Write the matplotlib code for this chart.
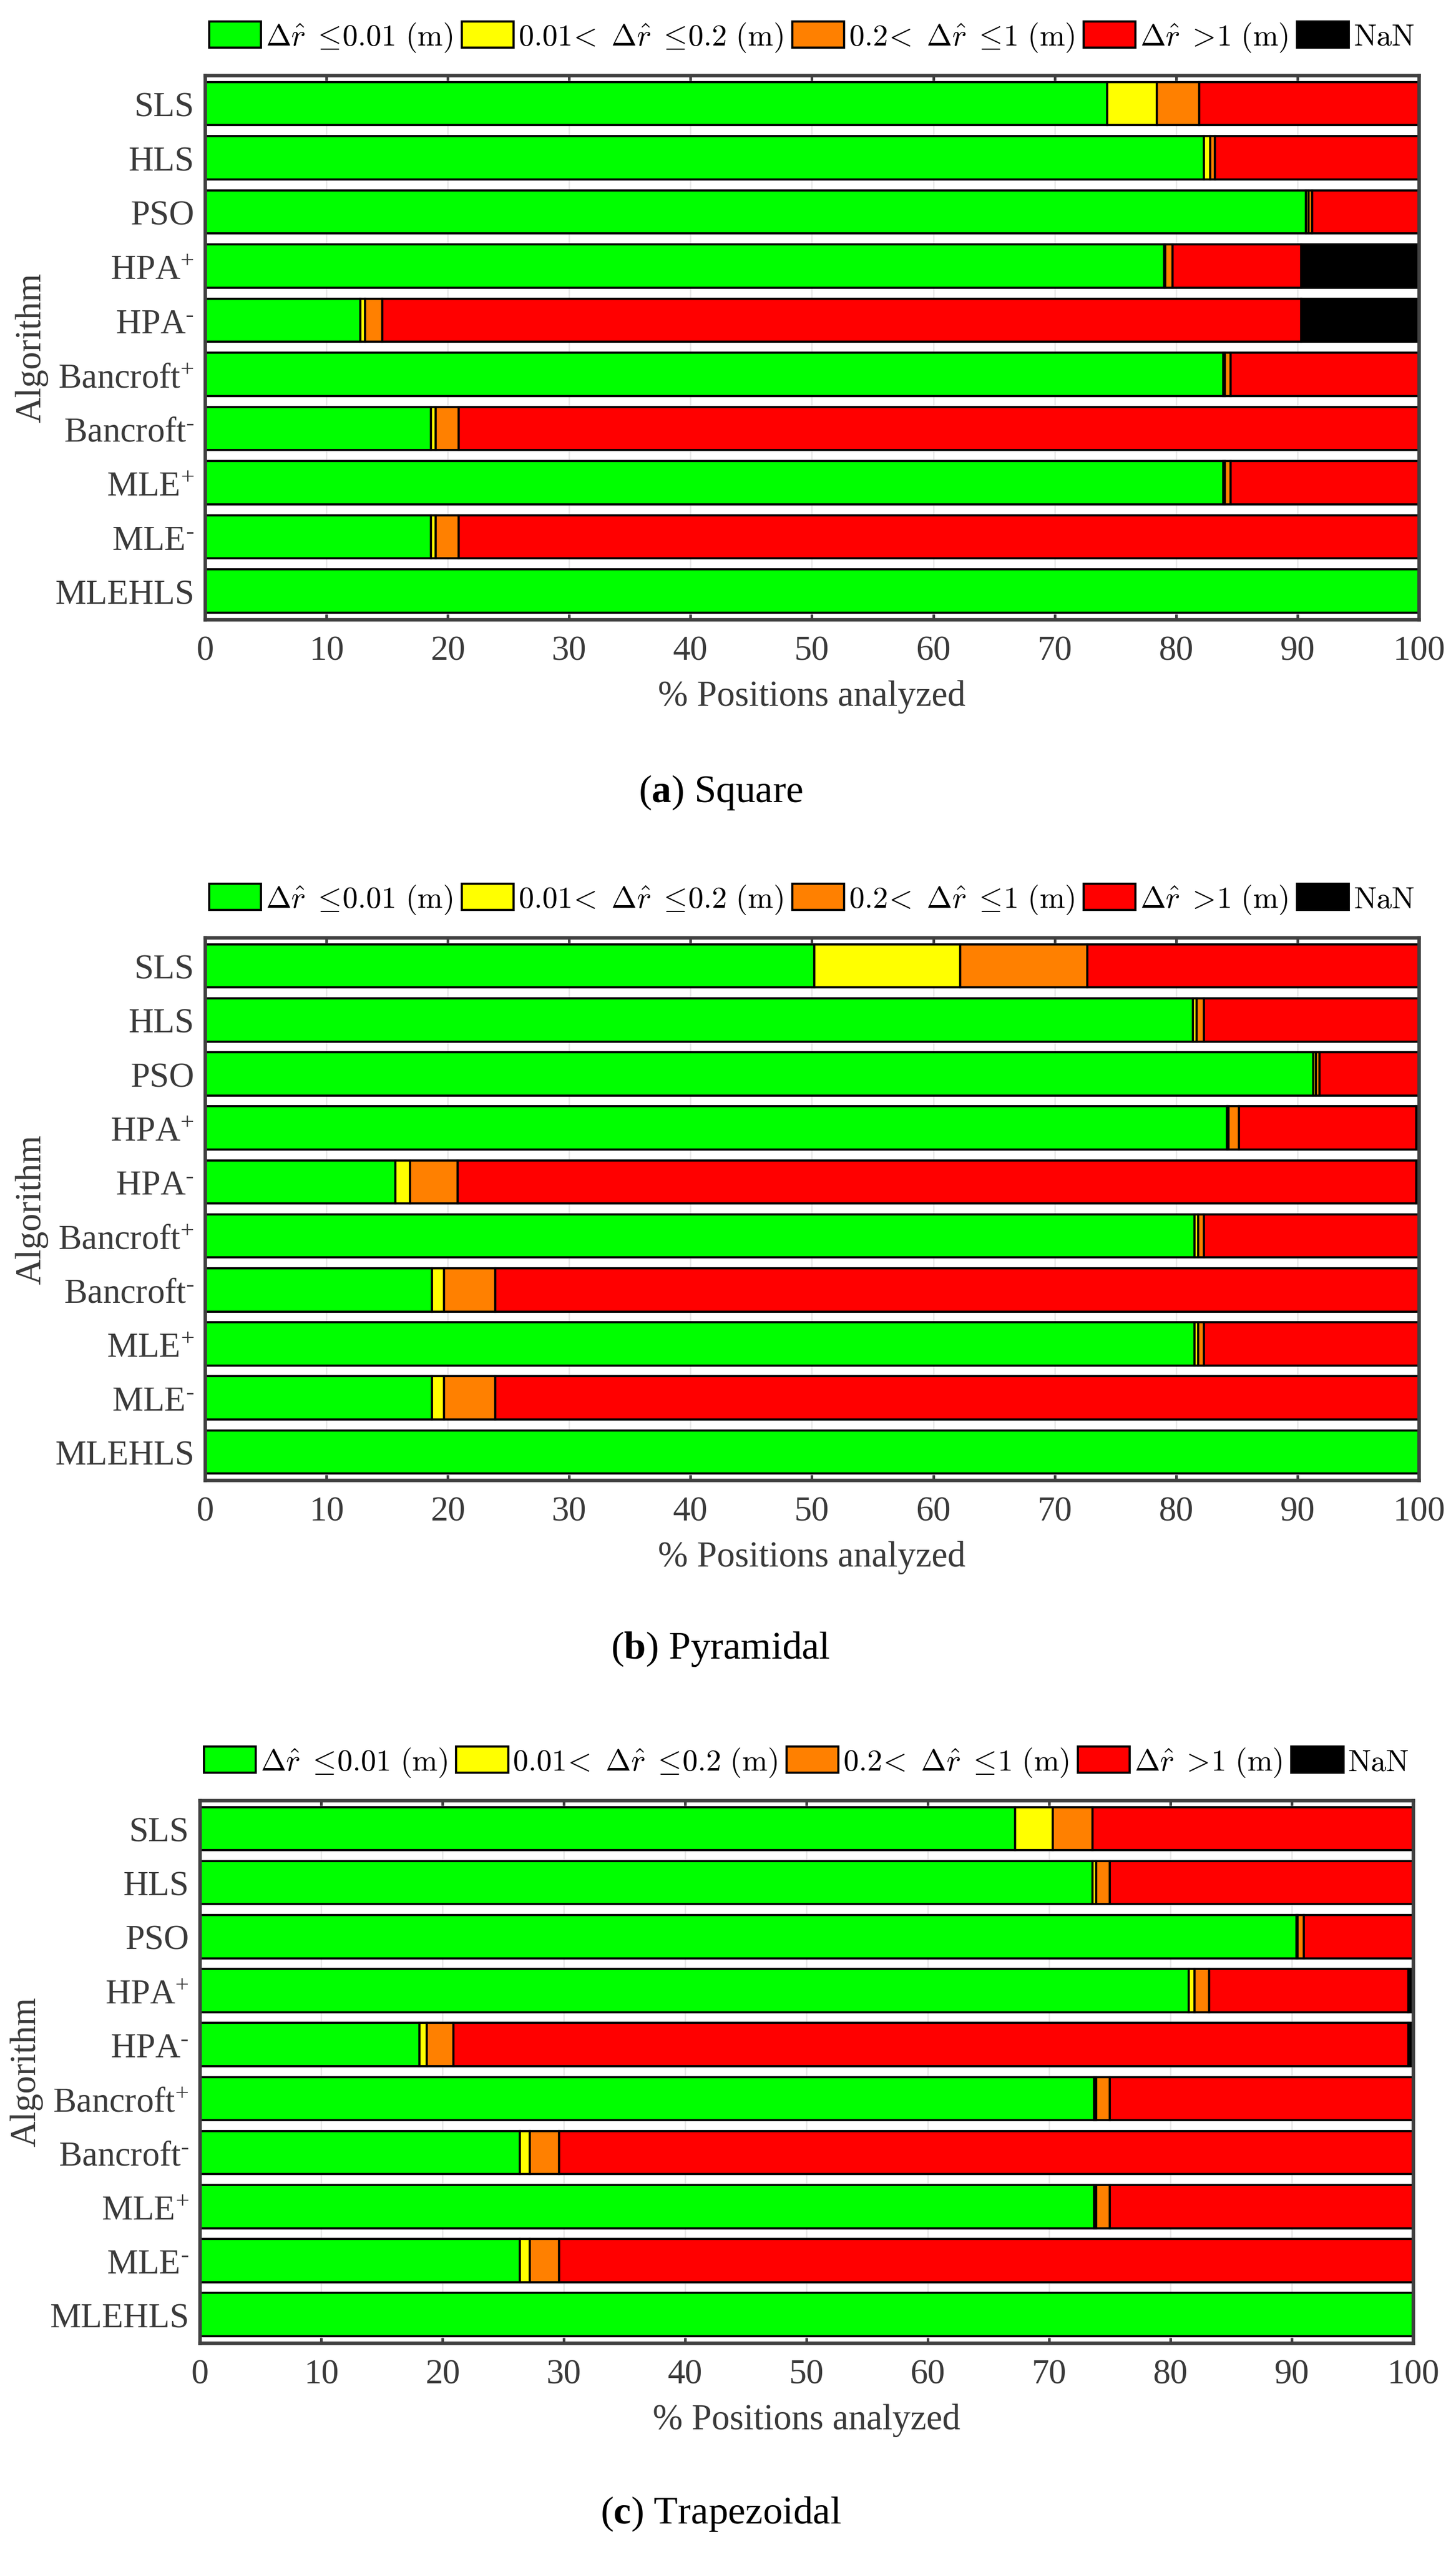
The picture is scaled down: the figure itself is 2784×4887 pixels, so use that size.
import matplotlib
matplotlib.use("Agg")
import matplotlib.pyplot as plt
from matplotlib.patches import Patch
from matplotlib.font_manager import FontProperties

# algorithms, top to bottom
algorithms = ['SLS', 'HLS', 'PSO', 'HPA$^{+}$', r'HPA$^{\text{-}}$', 'Bancroft$^{+}$',
              r'Bancroft$^{\text{-}}$', 'MLE$^{+}$', r'MLE$^{\text{-}}$', 'MLEHLS']

# error classes
classes = [r'$\Delta\hat{r}\;\leq\!0.01\ (\mathrm{m})$',
           r'$0.01\!<\ \Delta\hat{r}\;\leq\!0.2\ (\mathrm{m})$',
           r'$0.2\!<\ \Delta\hat{r}\;\leq\!1\ (\mathrm{m})$',
           r'$\Delta\hat{r}\;>\!1\ (\mathrm{m})$',
           r'$\mathrm{NaN}$']
class_colors = ['#00ff00', '#ffff00', '#ff8000', '#ff0000', '#000000']

# % of positions per class: [<=0.01, 0.01-0.2, 0.2-1, >1, NaN]
square = [
    [74.3, 4.1, 3.5, 18.1, 0.0],
    [82.3, 0.5, 0.4, 16.8, 0.0],
    [90.7, 0.2, 0.3, 8.8, 0.0],
    [79.0, 0.1, 0.6, 10.6, 9.7],
    [12.8, 0.4, 1.4, 75.7, 9.7],
    [83.9, 0.1, 0.5, 15.5, 0.0],
    [18.6, 0.4, 1.9, 79.1, 0.0],
    [83.9, 0.1, 0.5, 15.5, 0.0],
    [18.6, 0.4, 1.9, 79.1, 0.0],
    [100.0, 0.0, 0.0, 0.0, 0.0],
]
pyramidal = [
    [50.2, 12.0, 10.5, 27.3, 0.0],
    [81.4, 0.3, 0.6, 17.7, 0.0],
    [91.3, 0.2, 0.3, 8.2, 0.0],
    [84.2, 0.1, 0.9, 14.6, 0.2],
    [15.7, 1.2, 3.9, 79.0, 0.2],
    [81.5, 0.3, 0.5, 17.7, 0.0],
    [18.7, 1.0, 4.2, 76.1, 0.0],
    [81.5, 0.3, 0.5, 17.7, 0.0],
    [18.7, 1.0, 4.2, 76.1, 0.0],
    [100.0, 0.0, 0.0, 0.0, 0.0],
]
trapezoidal = [
    [67.2, 3.1, 3.3, 26.4, 0.0],
    [73.6, 0.3, 1.1, 25.0, 0.0],
    [90.4, 0.1, 0.5, 9.0, 0.0],
    [81.5, 0.5, 1.2, 16.4, 0.4],
    [18.1, 0.6, 2.2, 78.7, 0.4],
    [73.7, 0.2, 1.1, 25.0, 0.0],
    [26.4, 0.8, 2.4, 70.4, 0.0],
    [73.7, 0.2, 1.1, 25.0, 0.0],
    [26.4, 0.8, 2.4, 70.4, 0.0],
    [100.0, 0.0, 0.0, 0.0, 0.0],
]

panels = [square, pyramidal, trapezoidal]
captions = [r'($\mathbf{a}$) Square', r'($\mathbf{b}$) Pyramidal', r'($\mathbf{c}$) Trapezoidal']
xticks = [0, 10, 20, 30, 40, 50, 60, 70, 80, 90, 100]

plt.rcParams['font.family'] = ['Liberation Serif', 'DejaVu Serif']
plt.rcParams['mathtext.fontset'] = 'custom'
plt.rcParams['mathtext.rm'] = 'Liberation Serif'
plt.rcParams['mathtext.it'] = 'Liberation Serif:italic'
plt.rcParams['mathtext.bf'] = 'Liberation Serif:bold'

txt_col = '#3a3a3a'
spine_col = '#404040'

fig = plt.figure(figsize=(9.28, 16.2933), dpi=300)
# axes boxes [left, bottom, width, height]
boxes = [[0.1408, 0.7576, 0.8337, 0.2128],
         [0.1408, 0.4210, 0.8337, 0.2122],
         [0.1372, 0.0837, 0.8333, 0.2122]]
cap_y = [0.690, 0.3551, 0.017]

leg_prop = FontProperties(size=14, math_fontfamily='cm')

for data, box, cap, cy in zip(panels, boxes, captions, cap_y):
    ax = fig.add_axes(box)
    ypos = list(range(len(algorithms)))
    left = [0.0] * len(algorithms)
    for k in range(len(classes)):
        vals = [row[k] for row in data]
        ax.barh(ypos, vals, height=0.8, left=left, color=class_colors[k],
                edgecolor='black', linewidth=1.0, zorder=2)
        left = [l + v for l, v in zip(left, vals)]

    ax.set_xlim(0, 100)
    ax.set_ylim(9.525, -0.525)
    ax.set_yticks(ypos)
    ax.set_yticklabels(algorithms)
    ax.set_xticks(xticks)
    ax.set_axisbelow(True)
    ax.grid(axis='x', color='#e6e6e6', linewidth=0.6, zorder=0)
    ax.tick_params(axis='x', direction='in', top=True, bottom=True, length=2.5,
                   width=1.2, color=spine_col, labelsize=16, labelcolor=txt_col, pad=7)
    ax.tick_params(axis='y', length=0, labelsize=16, labelcolor=txt_col, pad=5)
    for s in ax.spines.values():
        s.set_color(spine_col)
        s.set_linewidth(1.6)
    ax.set_xlabel('% Positions analyzed', fontsize=16.5, color=txt_col, labelpad=6)
    ax.set_ylabel('Algorithm', fontsize=16.5, color=txt_col, labelpad=3)

    handles = [Patch(facecolor=c, edgecolor='black', linewidth=1.0) for c in class_colors]
    ax.legend(handles, classes, loc='center', bbox_to_anchor=(0.5, 1.07), ncol=5,
              frameon=False, prop=leg_prop, handlelength=1.7, handleheight=0.95,
              handletextpad=0.15, columnspacing=0.3, borderaxespad=0)

    fig.text(0.495, cy, cap, ha='center', va='center', fontsize=18, color='black')

fig.savefig('out.png', dpi=300)
